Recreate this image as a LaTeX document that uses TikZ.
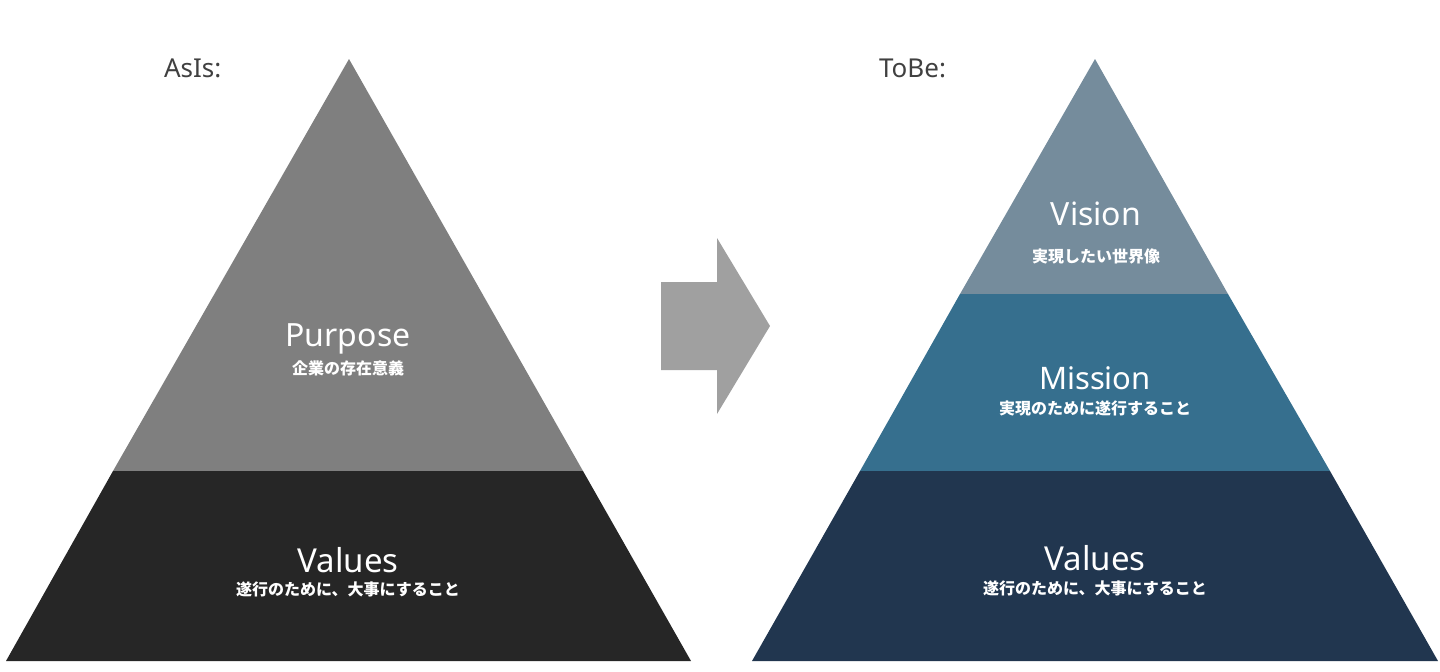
\documentclass[tikz,border=0pt]{standalone}
\usepackage{fontspec}
\setmainfont{Noto Sans}
\newfontfamily\cjk{Noto Sans CJK JP}
\definecolor{purposegray}{HTML}{7F7F7F}
\definecolor{valuesdark}{HTML}{262626}
\definecolor{visionblue}{HTML}{758C9C}
\definecolor{missionblue}{HTML}{366F8E}
\definecolor{valuesnavy}{HTML}{21364F}
\definecolor{arrowgray}{HTML}{A0A0A0}
\begin{document}
\begin{tikzpicture}[x=.5pt,y=-.5pt,
    title/.style={font=\fontsize{13}{15}\selectfont,text=black!75},
    head/.style={text=white,inner sep=0pt},
    sub/.style={text=white,inner sep=0pt,font=\cjk\bfseries\fontsize{8}{9}\selectfont}]
    \useasboundingbox (0,0) rectangle (1440,671);
    % AsIs
    \fill[purposegray] (349,59)--(583,471)--(113,471)--cycle;
    \fill[valuesdark] (113,471)--(583,471)--(691,661)--(6,661)--cycle;
    \node[title,anchor=west] (asis) at (157,68) {AsIs:};
    \node[head,font=\fontsize{16}{18}\selectfont] (purpose) at (348,339) {Purpose};
    \node[sub] (purposesub) at (348,368) {企業の存在意義};
    \node[head,font=\fontsize{16.5}{19}\selectfont] (values1) at (348,560) {Values};
    \node[sub] (values1sub) at (348,589) {遂行のために、大事にすること};
    % arrow
    \fill[arrowgray] (661,282)--(717,282)--(717,238)--(770,326)--(717,414)--(717,370)--(661,370)--cycle;
    % ToBe
    \fill[visionblue] (1095,59)--(1228,294)--(960,294)--cycle;
    \fill[missionblue] (960,294)--(1228,294)--(1330,471)--(860,471)--cycle;
    \fill[valuesnavy] (860,471)--(1330,471)--(1438,661)--(752,661)--cycle;
    \node[title,anchor=west] (tobe) at (872,68) {ToBe:};
    \node[head,font=\fontsize{16}{18}\selectfont] (vision) at (1096,214) {Vision};
    \node[sub] (visionsub) at (1096,256) {実現したい世界像};
    \node[head,font=\fontsize{15.5}{17}\selectfont] (mission) at (1095,378) {Mission};
    \node[sub] (missionsub) at (1095,408) {実現のために遂行すること};
    \node[head,font=\fontsize{16.5}{19}\selectfont] (values2) at (1095,558) {Values};
    \node[sub] (values2sub) at (1095,588) {遂行のために、大事にすること};
\end{tikzpicture}
\end{document}
